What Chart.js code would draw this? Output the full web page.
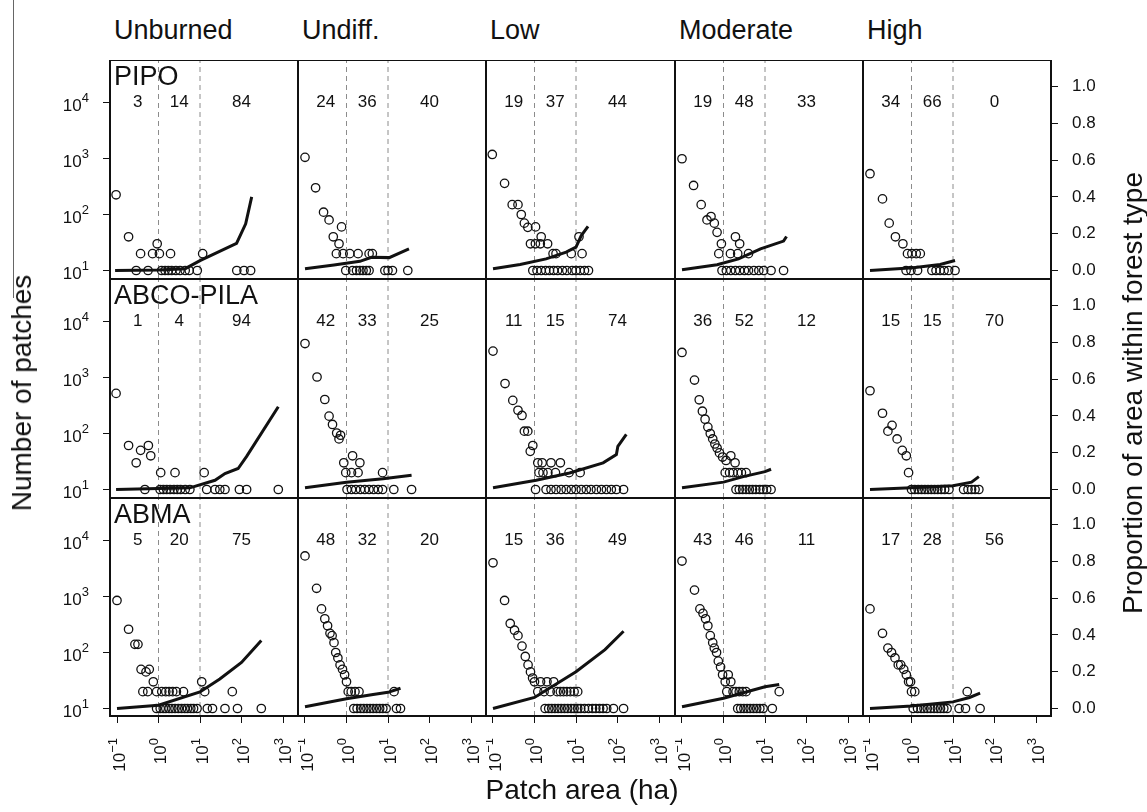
<!DOCTYPE html>
<html>
<head>
<meta charset="utf-8">
<script src="https://cdn.jsdelivr.net/npm/chart.js@4.4.0/dist/chart.umd.min.js"></script>
<style>
  body { margin: 0; background: #fff; font-family: "Liberation Sans", Arial, sans-serif; }
  #page { position: relative; width: 1147px; height: 812px; overflow: hidden; background: #fff; }
  #page canvas { position: absolute; }
  .colTitle { position: absolute; top: 14px; font-size: 27px; line-height: 32px; color: #111; }
  .rowTitle { position: absolute; font-size: 27px; line-height: 30px; color: #111; }
  .axTitle { position: absolute; font-size: 28px; line-height: 28px; color: #111; white-space: nowrap; }
  .rot { transform: translate(-50%, -50%) rotate(-90deg); }
  #cropLine { position: absolute; left: 13px; top: 0; width: 1px; height: 298px; background: #666; }
</style>
</head>
<body>
<div id="page">
  <div id="cropLine"></div>
</div>
<script>
// panel names
const severities = ['Unburned', 'Undiff.', 'Low', 'Moderate', 'High'];
const forestTypes = ['PIPO', 'ABCO-PILA', 'ABMA'];

// axis ticks / breaks
const areaTicks = [0.1, 1, 10, 100, 1000];
const countTicks = [10, 100, 1000, 10000];
const propTicks = [0, 0.2, 0.4, 0.6, 0.8, 1.0];
const sizeBreaks = [1, 10];          // dashed lines, ha
const classLabelX = [0.316, 3.16, 100];
const classLabelY = 10000;

// % of area in each patch size class (<1, 1-10, >10 ha)
const pctPIPO = [[3, 14, 84], [24, 36, 40], [19, 37, 44], [19, 48, 33], [34, 66, 0]];
const pctABCO = [[1, 4, 94], [42, 33, 25], [11, 15, 74], [36, 52, 12], [15, 15, 70]];
const pctABMA = [[5, 20, 75], [48, 32, 20], [15, 36, 49], [43, 46, 11], [17, 28, 56]];

// ---- PIPO ----
const pipoUnburnedPts = [[0.095,225],[0.19,40],[0.37,20],[0.72,20],[0.93,30],[1.05,20],[1.95,20],[11.6,20],
  [0.29,10],[0.56,10],[1.19,10],[1.44,10],[1.72,10],[2.08,10],[2.63,10],[3.3,10],[4.4,10],[5.5,10],[8.6,10],[77,10],[115,10],[166,10]];
const pipoUnburnedArea = [[0.09,0],[1,0.003],[4.4,0.01],[10,0.054],[76,0.148],[126,0.254],[176,0.4]];
const pipoUndiffPts = [[0.1,1050],[0.18,300],[0.28,110],[0.38,80],[0.76,60],[0.48,40],[0.66,30],
  [0.57,20],[0.83,20],[1.2,20],[1.9,20],[3.5,20],[4.2,20],
  [0.96,10],[1.4,10],[1.74,10],[2.1,10],[2.5,10],[3.0,10],[3.5,10],[8.4,10],[10,10],[12.8,10],[30,10]];
const pipoUndiffArea = [[0.1,0.01],[0.5,0.03],[2.1,0.05],[4,0.072],[10.7,0.07],[32,0.118]];
const pipoLowPts = [[0.096,1180],[0.19,360],[0.29,150],[0.4,150],[0.48,100],[0.57,70],[0.69,59],[1.06,60],[1.45,40],
  [0.8,30],[1.05,30],[1.38,30],[2.07,30],[2.8,20],[3.3,20],[7.7,20],[14,20],[11.8,40],
  [0.91,10],[1.15,10],[1.45,10],[1.86,10],[2.3,10],[2.9,10],[3.6,10],[4.7,10],[6,10],[8.1,10],[10,10],[12.6,10],[16,10],[20,10]];
const pipoLowArea = [[0.1,0.01],[0.45,0.033],[1.9,0.063],[5.8,0.1],[10,0.127],[13.4,0.19],[19.5,0.24]];
const pipoModPts = [[0.1,990],[0.19,330],[0.29,150],[0.4,80],[0.5,92],[0.6,70],[0.7,48],[0.89,30],[1.94,40],[2.45,30],
  [0.77,20],[1.47,20],[2.2,20],[4.0,20],
  [0.92,10],[1.17,10],[1.5,10],[1.94,10],[2.46,10],[3.2,10],[4,10],[5.4,10],[7.1,10],[9.3,10],[14,10],[28,10]];
const pipoModArea = [[0.1,0.004],[0.7,0.031],[2.3,0.063],[7.8,0.118],[28,0.16],[33,0.185]];
const pipoHighPts = [[0.1,535],[0.2,190],[0.29,70],[0.41,40],[0.62,30],[0.8,20],[1.02,20],[1.3,20],[1.63,20],
  [0.74,10],[0.97,10],[1.4,10],[3.1,10],[3.9,10],[4.9,10],[6.1,10],[7.8,10],[11.2,10]];
const pipoHighArea = [[0.1,0],[1.1,0.015],[4.9,0.033],[11.2,0.054]];

// ---- ABCO-PILA ----
const abcoUnburnedPts = [[0.095,520],[0.19,61],[0.29,30],[0.37,50],[0.57,61],[0.65,40],[1.13,20],[2.5,20],[12.6,20],
  [0.47,10],[1.09,10],[1.31,10],[1.58,10],[1.9,10],[2.36,10],[2.84,10],[3.4,10],[4.4,10],[5.7,10],
  [14.5,10],[23,10],[30,10],[40,10],[89,10],[133,10],[770,10]];
const abcoUnburnedArea = [[0.095,0],[5.7,0.009],[23,0.05],[40,0.087],[83,0.114],[133,0.18],[770,0.45]];
const abcoUndiffPts = [[0.1,4040],[0.195,1020],[0.3,405],[0.38,204],[0.46,145],[0.58,102],[0.72,93],[0.66,80],[1.4,40],
  [0.86,30],[2.1,30],[0.96,20],[1.32,20],[1.9,20],[7.4,20],
  [1.03,10],[1.32,10],[1.67,10],[2.17,10],[2.75,10],[3.5,10],[4.5,10],[5.8,10],[7.4,10],[13.8,10],[37,10]];
const abcoUndiffArea = [[0.1,0.01],[1,0.04],[7.6,0.058],[37,0.078]];
const abcoLowPts = [[0.1,2960],[0.195,780],[0.3,390],[0.4,260],[0.5,210],[0.57,110],[0.69,110],[0.91,61],[0.79,48],
  [1.2,30],[1.53,30],[2.5,30],[4.2,30],[1.28,20],[1.6,20],[2.1,20],[3.2,20],[6.8,20],[12.6,20],
  [1.06,10],[1.9,10],[2.5,10],[3.3,10],[4.4,10],[5.8,10],[7.7,10],[10,10],[13.4,10],[17.7,10],[23,10],[31,10],[41,10],[54,10],[71,10],[94,10],[140,10]];
const abcoLowArea = [[0.1,0.01],[1.1,0.05],[7,0.09],[45,0.145],[94,0.19],[102,0.235],[163,0.3]];
const abcoModPts = [[0.1,2800],[0.2,900],[0.26,400],[0.31,250],[0.36,180],[0.42,130],[0.48,100],[0.55,80],[0.62,65],[0.7,55],
  [0.8,45],[0.95,38],[1.15,33],[1.5,40],[1.9,30],[1.1,20],[1.4,20],[1.7,20],[2.2,20],[2.7,20],[3.5,20],
  [2.0,10],[2.4,10],[2.9,10],[3.5,10],[4.2,10],[5,10],[6,10],[7.5,10],[9,10],[11,10],[14,10]];
const abcoModArea = [[0.1,0.01],[1,0.04],[3,0.07],[10,0.097],[14,0.11]];
const abcoHighPts = [[0.1,580],[0.2,230],[0.27,110],[0.34,140],[0.45,80],[0.6,50],[0.75,40],[0.85,20],
  [1.0,10],[1.2,10],[1.45,10],[1.75,10],[2.1,10],[2.5,10],[3,10],[3.6,10],[4.3,10],[5.2,10],[6.3,10],[8,10],
  [18,10],[23,10],[28,10],[34,10],[42,10]];
const abcoHighArea = [[0.1,0],[1,0.01],[10,0.021],[28,0.04],[42,0.07]];

// ---- ABMA ----
const abmaUnburnedPts = [[0.1,850],[0.19,260],[0.27,140],[0.32,140],[0.38,50],[0.5,45],[0.6,50],[0.42,20],[0.55,20],[0.75,30],
  [0.9,20],[1.2,20],[1.5,20],[1.8,20],[2.2,20],[2.7,20],[11,30],[4,20],[13,20],[60,20],
  [0.9,10],[1.1,10],[1.3,10],[1.5,10],[1.8,10],[2.1,10],[2.5,10],[3,10],[3.6,10],[4.3,10],[5,10],[6,10],[7,10],[8.5,10],
  [15,10],[20,10],[40,10],[80,10],[300,10]];
const abmaUnburnedArea = [[0.1,0],[1,0.018],[10,0.09],[30,0.16],[100,0.25],[300,0.37]];
const abmaUndiffPts = [[0.1,5300],[0.19,1400],[0.25,600],[0.3,400],[0.35,300],[0.4,220],[0.45,200],[0.5,150],[0.55,100],
  [0.62,80],[0.7,60],[0.8,50],[0.9,40],[1.0,30],[1.1,20],[1.3,20],[1.6,20],[2,20],[14,20],
  [1.5,10],[1.8,10],[2.2,10],[2.6,10],[3.1,10],[3.7,10],[4.4,10],[5.3,10],[6.3,10],[7.5,10],[9,10],[16,10],[20,10]];
const abmaUndiffArea = [[0.1,0.01],[1,0.053],[4,0.075],[10,0.088],[20,0.11]];
const abmaLowPts = [[0.1,4000],[0.19,850],[0.26,330],[0.33,250],[0.4,200],[0.5,130],[0.6,85],[0.7,60],[0.8,45],[0.9,35],
  [1.0,30],[1.2,20],[1.4,30],[1.7,20],[2,30],[2.4,20],[2.9,30],[3.5,20],[4.2,20],[5,20],[6,20],[7.3,20],[9,20],[11,20],
  [1.8,10],[2.2,10],[2.6,10],[3.1,10],[3.7,10],[4.4,10],[5.3,10],[6.3,10],[7.6,10],[9,10],[11,10],[13,10],[16,10],
  [20,10],[25,10],[30,10],[37,10],[45,10],[55,10],[80,10],[140,10]];
const abmaLowArea = [[0.1,0],[1,0.06],[10,0.2],[50,0.32],[140,0.42]];
const abmaModPts = [[0.1,4300],[0.2,1300],[0.27,600],[0.32,500],[0.37,400],[0.42,300],[0.48,200],[0.55,150],[0.6,120],
  [0.68,100],[0.75,70],[0.85,55],[0.95,40],[1.1,30],[1.3,40],[1.5,30],[1.7,20],[2,20],[2.4,20],[1.2,20],[2.9,20],[3.5,20],
  [2.2,10],[2.6,10],[3.1,10],[3.7,10],[4.4,10],[5.3,10],[6.3,10],[7.5,10],[9,10],[15,10],[22,20]];
const abmaModArea = [[0.1,0.01],[1,0.056],[10,0.118],[22,0.13]];
const abmaHighPts = [[0.1,600],[0.2,220],[0.27,120],[0.33,100],[0.4,80],[0.48,60],[0.55,60],[0.65,50],[0.75,40],[0.85,30],
  [0.95,30],[1.0,20],[1.2,20],[22,20],
  [1.1,10],[1.4,10],[1.7,10],[2,10],[2.4,10],[2.9,10],[3.5,10],[4.2,10],[5,10],[6,10],[7.2,10],[14,10],[20,10],[45,10]];
const abmaHighArea = [[0.1,0],[1,0.014],[10,0.036],[25,0.06],[45,0.083]];

const panelPts = [
  [pipoUnburnedPts, pipoUndiffPts, pipoLowPts, pipoModPts, pipoHighPts],
  [abcoUnburnedPts, abcoUndiffPts, abcoLowPts, abcoModPts, abcoHighPts],
  [abmaUnburnedPts, abmaUndiffPts, abmaLowPts, abmaModPts, abmaHighPts]
];
const panelArea = [
  [pipoUnburnedArea, pipoUndiffArea, pipoLowArea, pipoModArea, pipoHighArea],
  [abcoUnburnedArea, abcoUndiffArea, abcoLowArea, abcoModArea, abcoHighArea],
  [abmaUnburnedArea, abmaUndiffArea, abmaLowArea, abmaModArea, abmaHighArea]
];
const panelPct = [pctPIPO, pctABCO, pctABMA];

// layout (pixels)
const colLeft = [110, 298, 486, 675, 863, 1051];
const rowTop = [60, 279, 498, 716];
const decadeX = 41.5, decadeY = 56, propUnit = 184;
const x01Offset = 7;      // 10^-1 sits 7px inside the left frame
const y10Offset = 210.5;  // 10^1 / 0.0 sits 210.5px below the top frame
const FONT = '"Liberation Sans", Arial, sans-serif';

function expText(v) {
  return String(Math.round(Math.log10(v))).replace('-', '\u2212');
}

Chart.defaults.font.family = FONT;
Chart.defaults.font.size = 17;
Chart.defaults.color = '#111';

const panelDecor = {
  id: 'panelDecor',
  afterDatasetsDraw(chart, args, opts) {
    const { ctx, chartArea: a, scales } = chart;
    ctx.save();
    ctx.fillStyle = '#111';
    ctx.font = '17px ' + FONT;
    ctx.textAlign = 'center';
    ctx.textBaseline = 'middle';
    opts.pct.forEach((v, i) => {
      ctx.fillText(String(v), scales.x.getPixelForValue(classLabelX[i]), scales.y.getPixelForValue(classLabelY));
    });
    ctx.lineWidth = 2;
    ctx.strokeStyle = '#111';
    ctx.strokeRect(a.left, a.top, a.width, a.height);
    ctx.restore();
  }
};

// "10" with a raised exponent, placed at the scale's tick pixels
const powLabels = {
  id: 'powLabels',
  afterDraw(chart, args, opts) {
    const { ctx, chartArea: a, scales } = chart;
    ctx.save();
    ctx.fillStyle = '#111';
    ctx.textAlign = 'right';
    ctx.textBaseline = 'middle';
    if (opts.left) {
      const right = a.left - 21;
      countTicks.forEach(v => {
        const py = scales.y.getPixelForValue(v);
        ctx.font = '13px ' + FONT;
        const e = expText(v);
        const we = ctx.measureText(e).width;
        ctx.fillText(e, right, py - 4);
        ctx.font = '17px ' + FONT;
        ctx.fillText('10', right - we, py + 4);
      });
    }
    if (opts.bottom) {
      const top = a.bottom + 22;
      areaTicks.forEach(v => {
        const px = scales.x.getPixelForValue(v);
        ctx.save();
        ctx.translate(px, top);
        ctx.rotate(-Math.PI / 2);
        ctx.font = '13px ' + FONT;
        const e = expText(v);
        const we = ctx.measureText(e).width;
        ctx.fillText(e, 0, -4);
        ctx.font = '17px ' + FONT;
        ctx.fillText('10', -we, 3);
        ctx.restore();
      });
    }
    ctx.restore();
  }
};

const page = document.getElementById('page');

function tickGrid() {
  return { display: true, drawOnChartArea: false, drawTicks: true, tickLength: 7, color: '#111', lineWidth: 1 };
}
function noPad(s) {
  s.paddingLeft = 0; s.paddingRight = 0; s.paddingTop = 0; s.paddingBottom = 0;
}

function makePanel(r, c) {
  const left = colLeft[c], w = colLeft[c + 1] - left;
  const top = rowTop[r], h = rowTop[r + 1] - top;
  const padL = c === 0 ? left : 0;
  const padR = c === 4 ? 96 : 0;
  const padB = r === 2 ? 96 : 0;

  const cv = document.createElement('canvas');
  cv.width = w + padL + padR;
  cv.height = h + padB;
  cv.style.left = (left - padL) + 'px';
  cv.style.top = top + 'px';
  cv.style.width = cv.width + 'px';
  cv.style.height = cv.height + 'px';
  page.appendChild(cv);

  const xMin = Math.pow(10, -1 - x01Offset / decadeX);
  const xMax = Math.pow(10, -1 + (w - x01Offset) / decadeX);
  const yMin = Math.pow(10, 1 - (h - y10Offset) / decadeY);
  const yMax = Math.pow(10, 1 + y10Offset / decadeY);
  const y2Min = -(h - y10Offset) / propUnit;
  const y2Max = y10Offset / propUnit;

  const datasets = [
    {
      type: 'scatter', showLine: true, yAxisID: 'y2',
      data: panelArea[r][c].map(p => ({ x: p[0], y: p[1] })),
      borderColor: '#111', borderWidth: 3, pointRadius: 0, fill: false, tension: 0
    },
    {
      type: 'scatter', yAxisID: 'y',
      data: panelPts[r][c].map(p => ({ x: p[0], y: p[1] })),
      pointStyle: 'circle', pointRadius: 4.2, borderWidth: 1.3,
      borderColor: '#111', backgroundColor: 'rgba(0,0,0,0)'
    }
  ];
  sizeBreaks.forEach(b => {
    datasets.push({
      type: 'scatter', showLine: true, yAxisID: 'y',
      data: [{ x: b, y: yMin }, { x: b, y: yMax }],
      borderColor: '#8c8c8c', borderWidth: 1, borderDash: [5, 4], pointRadius: 0
    });
  });

  new Chart(cv, {
    type: 'scatter',
    data: { datasets },
    options: {
      responsive: false, animation: false, devicePixelRatio: 1, events: [],
      layout: { padding: 0, autoPadding: false },
      plugins: {
        legend: { display: false }, tooltip: { enabled: false },
        panelDecor: { pct: panelPct[r][c] },
        powLabels: { left: c === 0, bottom: r === 2 }
      },
      scales: {
        x: {
          type: 'logarithmic', position: 'bottom', min: xMin, max: xMax,
          display: r === 2,
          afterBuildTicks: s => { s.ticks = areaTicks.map(v => ({ value: v })); },
          afterFit: s => { noPad(s); if (r === 2) s.height = padB; },
          grid: tickGrid(), border: { display: false },
          ticks: { autoSkip: false, maxRotation: 0, callback: () => '' }
        },
        y: {
          type: 'logarithmic', position: 'left', min: yMin, max: yMax,
          display: c === 0,
          afterBuildTicks: s => { s.ticks = countTicks.map(v => ({ value: v })); },
          afterFit: s => { noPad(s); if (c === 0) s.width = padL; },
          grid: tickGrid(), border: { display: false },
          ticks: { autoSkip: false, callback: () => '' }
        },
        y2: {
          type: 'linear', position: 'right', min: y2Min, max: y2Max,
          display: c === 4,
          afterBuildTicks: s => { s.ticks = propTicks.map(v => ({ value: v })); },
          afterFit: s => { noPad(s); if (c === 4) s.width = padR; },
          grid: tickGrid(), border: { display: false },
          ticks: { autoSkip: false, padding: 14, color: '#111', font: { size: 17 },
                   callback: v => Number(v).toFixed(1) }
        }
      }
    },
    plugins: [panelDecor, powLabels]
  });
}

for (let r = 0; r < 3; r++) {
  for (let c = 0; c < 5; c++) makePanel(r, c);
}

// headings and axis titles
severities.forEach((s, c) => {
  const d = document.createElement('div');
  d.className = 'colTitle';
  d.style.left = (colLeft[c] + 4) + 'px';
  d.textContent = s;
  page.appendChild(d);
});
forestTypes.forEach((f, r) => {
  const d = document.createElement('div');
  d.className = 'rowTitle';
  d.style.left = (colLeft[0] + 4) + 'px';
  d.style.top = (rowTop[r] + 1) + 'px';
  d.textContent = f;
  page.appendChild(d);
});

function axisTitle(text, x, y, rotate) {
  const d = document.createElement('div');
  d.className = 'axTitle' + (rotate ? ' rot' : '');
  d.textContent = text;
  d.style.left = x + 'px';
  d.style.top = y + 'px';
  if (!rotate) d.style.transform = 'translate(-50%, -50%)';
  page.appendChild(d);
}
axisTitle('Number of patches', 22, 393, true);
axisTitle('Proportion of area within forest type', 1133, 393, true);
axisTitle('Patch area (ha)', 582, 790, false);
</script>
</body>
</html>
